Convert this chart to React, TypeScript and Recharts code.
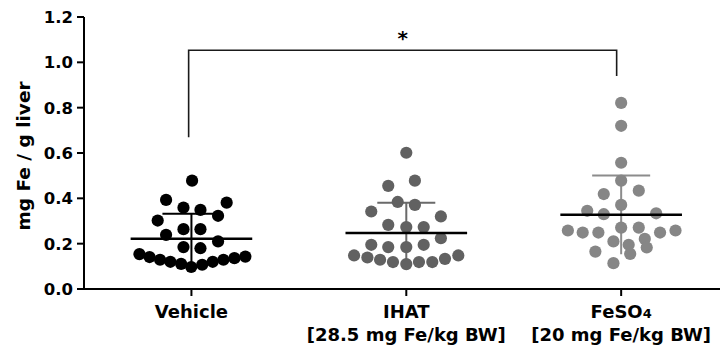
import { Scatter, ScatterChart, XAxis, YAxis } from "recharts";

// group order on the x axis
const groups = ["Vehicle", "IHAT", "FeSO4"];
const doseLabels = ["", "[28.5 mg Fe/kg BW]", "[20 mg Fe/kg BW]"];
const yTicks = [0, 0.2, 0.4, 0.6, 0.8, 1.0, 1.2];

// mg Fe / g liver, one value per animal
const vehicleValues = [
  0.478, 0.393, 0.381, 0.359, 0.349, 0.323, 0.302, 0.264, 0.264, 0.239, 0.21, 0.185,
  0.18, 0.154, 0.141, 0.129, 0.12, 0.111, 0.097, 0.107, 0.12, 0.129, 0.136, 0.143,
];
const ihatValues = [
  0.601, 0.455, 0.478, 0.384, 0.371, 0.342, 0.32, 0.283, 0.273, 0.273, 0.224, 0.195,
  0.185, 0.185, 0.195, 0.148, 0.139, 0.129, 0.119, 0.11, 0.119, 0.119, 0.133, 0.148,
];
const feso4Values = [
  0.821, 0.72, 0.557, 0.478, 0.419, 0.434, 0.371, 0.345, 0.33, 0.334, 0.258, 0.249,
  0.249, 0.271, 0.271, 0.249, 0.258, 0.21, 0.221, 0.195, 0.183, 0.165, 0.155, 0.114,
];

// horizontal scatter offsets of each dot, in category units
const vehicleJitter = [
  0.003, -0.118, 0.164, -0.037, 0.042, 0.124, -0.157, -0.037, 0.042, -0.118, 0.124, -0.037,
  0.042, -0.242, -0.195, -0.146, -0.098, -0.048, -0.001, 0.05, 0.099, 0.149, 0.2, 0.251,
];
const ihatJitter = [
  0, -0.084, 0.04, -0.04, 0.04, -0.163, 0.161, -0.084, 0, 0.081, 0.161, -0.163,
  -0.084, 0, 0.081, -0.243, -0.181, -0.122, -0.062, 0, 0.059, 0.121, 0.18, 0.242,
];
const feso4Jitter = [
  0, 0, 0, 0, -0.081, 0.082, 0, -0.158, -0.081, 0.163, -0.248, -0.179,
  -0.106, 0, 0.082, 0.181, 0.253, -0.036, 0.11, 0.035, 0.119, -0.12, 0.042, -0.036,
];

// significance bracket Vehicle vs FeSO4
const bracketX = [0.987, 2.979];
const bracketY = [0.67, 1.053, 0.94];

const FONT = "'DejaVu Sans', sans-serif";

const series = [
  { values: vehicleValues, jitter: vehicleJitter, dot: "#000000", bar: "#000000" },
  { values: ihatValues, jitter: ihatJitter, dot: "#616161", bar: "#6a6a6a" },
  { values: feso4Values, jitter: feso4Jitter, dot: "#868686", bar: "#8c8c8c" },
];

const mean = (a: number[]) => a.reduce((s, v) => s + v, 0) / a.length;
const sd = (a: number[]) => {
  const m = mean(a);
  return Math.sqrt(a.reduce((s, v) => s + (v - m) * (v - m), 0) / (a.length - 1));
};

const MEAN_HALF = 0.283;
const CAP_HALF = 0.135;

const noShape = () => <g />;

function XTick({ x, y, payload }: any) {
  const i = payload.value - 1;
  const name = groups[i];
  return (
    <g>
      <text x={x} y={y + 20} textAnchor="middle" fontFamily={FONT} fontWeight="bold" fontSize={18} fill="#000">
        {name === "FeSO4" ? (
          <>
            FeSO<tspan fontSize={13}>4</tspan>
          </>
        ) : (
          name
        )}
      </text>
      {doseLabels[i] && (
        <text x={x} y={y + 43} textAnchor="middle" fontFamily={FONT} fontWeight="bold" fontSize={18} fill="#000">
          {doseLabels[i]}
        </text>
      )}
    </g>
  );
}

function YLabel({ viewBox }: any) {
  const cx = viewBox.x + 30;
  const cy = viewBox.y + viewBox.height / 2 + 3;
  return (
    <text
      x={cx}
      y={cy}
      transform={`rotate(-90 ${cx} ${cy})`}
      textAnchor="middle"
      fontFamily={FONT}
      fontWeight="bold"
      fontSize={18.5}
      fill="#000"
    >
      mg Fe / g liver
    </text>
  );
}

export default function App() {
  const stats = series.map((s) => ({ m: mean(s.values), d: sd(s.values) }));

  return (
    <div style={{ position: "absolute", left: 0, top: 0, width: 720, height: 349, background: "#fff" }}>
      <ScatterChart width={720} height={349} margin={{ top: 17, right: 0, bottom: 0, left: 0 }}>
        <XAxis
          type="number"
          dataKey="x"
          domain={[0.5, 3.46]}
          allowDataOverflow
          ticks={[1, 2, 3]}
          tick={<XTick />}
          tickSize={7}
          tickMargin={2}
          height={60}
          stroke="#000"
          strokeWidth={2}
          tickLine={{ stroke: "#000", strokeWidth: 2 }}
        />
        <YAxis
          type="number"
          dataKey="y"
          domain={[0, 1.2]}
          allowDataOverflow
          ticks={yTicks}
          tickFormatter={(v: number) => v.toFixed(1)}
          width={84}
          tickSize={7}
          tickMargin={4}
          stroke="#000"
          strokeWidth={2}
          tickLine={{ stroke: "#000", strokeWidth: 2 }}
          tick={{ fontFamily: FONT, fontWeight: "bold", fontSize: 16.5, fill: "#000" }}
          label={<YLabel />}
        />

        {/* SD whiskers, under the dots */}
        {series.map((s, i) => {
          const c = i + 1;
          const { m, d } = stats[i];
          return (
            <Scatter
              key={`sd-${i}`}
              data={[
                { x: c - CAP_HALF, y: m + d },
                { x: c + CAP_HALF, y: m + d },
                { x: c, y: m + d },
                { x: c, y: m - d },
              ]}
              line={{ stroke: s.bar, strokeWidth: 2 }}
              shape={noShape}
              isAnimationActive={false}
            />
          );
        })}

        {series.map((s, i) => (
          <Scatter
            key={`dots-${i}`}
            data={s.values.map((v, k) => ({ x: i + 1 + s.jitter[k], y: v }))}
            shape={(p: any) => <circle cx={p.cx} cy={p.cy} r={6.1} fill={s.dot} />}
            isAnimationActive={false}
          />
        ))}

        {/* mean lines on top */}
        {series.map((s, i) => (
          <Scatter
            key={`mean-${i}`}
            data={[
              { x: i + 1 - MEAN_HALF, y: stats[i].m },
              { x: i + 1 + MEAN_HALF, y: stats[i].m },
            ]}
            line={{ stroke: "#000", strokeWidth: 2.5 }}
            shape={noShape}
            isAnimationActive={false}
          />
        ))}

        <Scatter
          data={[
            { x: bracketX[0], y: bracketY[0] },
            { x: bracketX[0], y: bracketY[1] },
            { x: bracketX[1], y: bracketY[1] },
            { x: bracketX[1], y: bracketY[2] },
          ]}
          line={{ stroke: "#1a1a1a", strokeWidth: 1.6 }}
          shape={noShape}
          isAnimationActive={false}
        />
        <Scatter
          data={[{ x: (bracketX[0] + bracketX[1]) / 2, y: bracketY[1] + 0.07 }]}
          shape={(p: any) => (
            <text x={p.cx} y={p.cy + 11} textAnchor="middle" fontFamily={FONT} fontWeight="bold" fontSize={20} fill="#000">
              *
            </text>
          )}
          isAnimationActive={false}
        />
      </ScatterChart>
    </div>
  );
}
